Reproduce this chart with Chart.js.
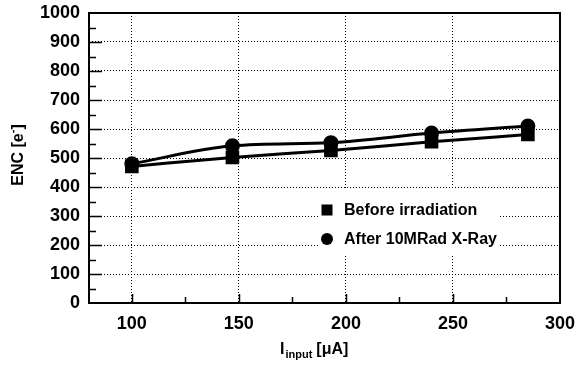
<!DOCTYPE html>
<html lang="en">
<head>
  <meta charset="UTF-8" />
  <title>ENC vs input current</title>
  <script src="https://cdn.jsdelivr.net/npm/chart.js"></script>
  <style>
    body { margin: 0; background: #fff; }
    #wrap { width: 578px; height: 366px; }
  </style>
</head>
<body>
<div id="wrap"><canvas id="encChart" width="578" height="366"></canvas></div>

<script>
  // 数据：输入电流 (uA) 与 ENC (e-)
  const currents = [100, 147, 193, 240, 285];
  const encBefore = [471, 502, 526, 556, 581];
  const encAfter = [480, 542, 553, 586, 610];

  const labelBefore = 'Before irradiation';
  const labelAfter = 'After 10MRad X-Ray';

  // 坐标轴刻度
  const xTicks = [100, 150, 200, 250, 300];
  const yTicks = [0, 100, 200, 300, 400, 500, 600, 700, 800, 900, 1000];

  const FONT = '"Liberation Sans", Arial, sans-serif';

  // 外框、小刻度、图例、轴标题
  const framePlugin = {
    id: 'frame',
    afterDatasetsDraw(chart) {
      const ctx = chart.ctx;
      const a = chart.chartArea;
      const xs = chart.scales.x, ys = chart.scales.y;
      ctx.save();
      ctx.strokeStyle = '#000';

      // y 刻度线（100 长，50 短）
      ctx.lineWidth = 1.5;
      for (let v = 50; v < 1000; v += 50) {
        const y = Math.round(ys.getPixelForValue(v)) + 0.5;
        const len = v % 100 === 0 ? 13 : 7;
        ctx.beginPath(); ctx.moveTo(a.left, y); ctx.lineTo(a.left + len, y); ctx.stroke();
      }
      // x 刻度线（50 长，25 短）
      for (let v = 100; v < 300; v += 25) {
        const x = Math.round(xs.getPixelForValue(v)) + 0.5;
        const len = v % 50 === 0 ? 9 : 6;
        ctx.beginPath(); ctx.moveTo(x, a.bottom); ctx.lineTo(x, a.bottom - len); ctx.stroke();
      }

      // 外框
      ctx.lineWidth = 2;
      ctx.strokeRect(a.left, a.top, a.right - a.left, a.bottom - a.top);

      // 图例（白底）
      const lx = 327, ly1 = 210, ly2 = 239;
      ctx.fillStyle = '#fff';
      ctx.fillRect(318, 190, 182, 64);
      ctx.fillStyle = '#000';
      ctx.fillRect(lx - 5.5, ly1 - 5.5, 11, 11);
      ctx.beginPath(); ctx.arc(lx, ly2, 6, 0, Math.PI * 2); ctx.fill();
      ctx.font = 'bold 16px ' + FONT;
      ctx.textBaseline = 'middle';
      ctx.textAlign = 'left';
      ctx.fillText(labelBefore, 344, ly1 + 1);
      ctx.fillText(labelAfter, 344, ly2 + 1);

      // x 轴标题 I_input [uA]
      ctx.textBaseline = 'alphabetic';
      ctx.font = 'bold 16px ' + FONT;
      let tx = 280, ty = 354;
      ctx.fillText('I', tx, ty);
      tx += ctx.measureText('I').width + 1;
      ctx.font = 'bold 11px ' + FONT;
      ctx.fillText('input', tx, ty + 4);
      tx += ctx.measureText('input').width + 4;
      ctx.font = 'bold 16px ' + FONT;
      ctx.fillText('[\u03bcA]', tx, ty);

      // y 轴标题 ENC [e-]
      ctx.translate(23, 155);
      ctx.rotate(-Math.PI / 2);
      const p1 = 'ENC [e', p3 = ']';
      ctx.font = 'bold 11px ' + FONT;
      const w2 = ctx.measureText('-').width;
      ctx.font = 'bold 16px ' + FONT;
      const total = ctx.measureText(p1).width + w2 + ctx.measureText(p3).width;
      let px = -total / 2;
      ctx.fillText(p1, px, 0);
      px += ctx.measureText(p1).width;
      ctx.font = 'bold 11px ' + FONT;
      ctx.fillText('-', px, -7);
      px += w2;
      ctx.font = 'bold 16px ' + FONT;
      ctx.fillText(p3, px, 0);
      ctx.restore();
    }
  };

  const toPoints = (xs, ys) => xs.map((x, i) => ({ x: x, y: ys[i] }));

  new Chart(document.getElementById('encChart'), {
    type: 'line',
    data: {
      datasets: [{
        label: labelBefore,
        data: toPoints(currents, encBefore),
        borderColor: '#000',
        backgroundColor: '#000',
        borderWidth: 3,
        cubicInterpolationMode: 'monotone',
        pointStyle: 'rect',
        pointRadius: 7.5
      }, {
        label: labelAfter,
        data: toPoints(currents, encAfter),
        borderColor: '#000',
        backgroundColor: '#000',
        borderWidth: 3,
        cubicInterpolationMode: 'monotone',
        pointStyle: 'circle',
        pointRadius: 6
      }]
    },
    options: {
      responsive: false,
      animation: false,
      layout: { padding: { top: 13, right: 18, left: 0, bottom: 0 } },
      plugins: { legend: { display: false }, tooltip: { enabled: false } },
      scales: {
        x: {
          type: 'linear',
          min: 80,
          max: 300,
          afterBuildTicks: s => { s.ticks = xTicks.map(v => ({ value: v })); },
          // 固定高度，去掉标签溢出留白
          afterFit: s => { s.height = 63; s.paddingLeft = 0; s.paddingRight = 0; },
          grid: { color: '#000', lineWidth: 1, drawTicks: false },
          border: { display: false, dash: [1, 2] },
          ticks: { color: '#000', padding: 10, maxRotation: 0, callback: v => String(v), font: { family: FONT, size: 18, weight: 'bold' } }
        },
        y: {
          min: 0,
          max: 1000,
          afterBuildTicks: s => { s.ticks = yTicks.map(v => ({ value: v })); },
          afterFit: s => { s.width = 89; s.paddingTop = 0; s.paddingBottom = 0; },
          grid: { color: '#000', lineWidth: 1, drawTicks: false },
          border: { display: false, dash: [1, 2] },
          ticks: { color: '#000', padding: 9, callback: v => String(v), font: { family: FONT, size: 18, weight: 'bold' } }
        }
      }
    },
    plugins: [framePlugin]
  });
</script>
</body>
</html>
